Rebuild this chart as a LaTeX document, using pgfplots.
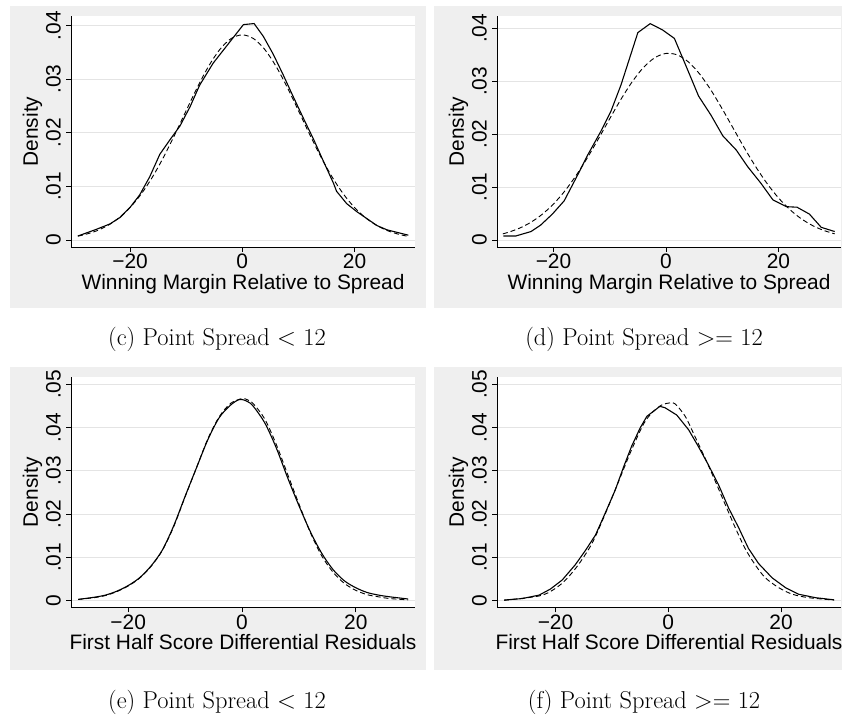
\documentclass[border=0pt]{standalone}
\usepackage{fontspec}
\usepackage{pgfplots}
\pgfplotsset{compat=1.18}
\newfontfamily\labfam{Liberation Sans}
\newcommand\labf{\labfam\fontsize{20.9}{25}\selectfont}
\newcommand\capf{\fontsize{24.4}{29}\selectfont}
\definecolor{bgc}{RGB}{239,239,239}
\definecolor{gridc}{RGB}{228,228,228}
\pgfplotsset{
  stata/.style={
    scale only axis, width=344pt,
    axis x line*=bottom, axis y line*=left,
    axis line style={black, line width=0.9pt},
    axis background/.style={fill=white},
    tick align=outside, major tick length=5pt,
    tick style={black, line width=0.9pt},
    xtick={-20,0,20}, xticklabels={−20,0,20},
    scaled y ticks=false, scaled x ticks=false,
    ymajorgrids, major grid style={gridc, line width=0.9pt},
    ticklabel style={font=\labf, inner sep=0pt},
    xticklabel shift=2pt, yticklabel shift=5pt,
    yticklabel style={rotate=90, anchor=south},
    xticklabel style={anchor=north},
    every axis x label/.style={at={(axis description cs:0.5,-0.184)}, anchor=base, font=\labf},
    every axis y label/.style={at={(axis description cs:-0.096,0.5)}, anchor=base, rotate=90, font=\labf},
    ylabel={Density},
    solidk/.style={black, line width=1.1pt},
    dashk/.style={black, line width=0.9pt, dash pattern=on 5pt off 3pt},
  }
}
\begin{document}
\begin{tikzpicture}
\useasboundingbox (0pt,0pt) rectangle (842pt,715pt);
\fill[bgc] (10pt,407pt) rectangle (426pt,709pt);
\fill[bgc] (434pt,407pt) rectangle (842pt,709pt);
\fill[bgc] (10pt,45pt) rectangle (426pt,348pt);
\fill[bgc] (434pt,45pt) rectangle (842pt,348pt);

% (c)
\begin{axis}[stata, at={(71pt,468pt)}, anchor=south west, height=231pt,
  xmin=-30.53, xmax=30.78, ymin=-0.0013, ymax=0.04181,
  ytick={0,0.01,0.02,0.03,0.04}, yticklabels={0,.01,.02,.03,.04},
  xlabel={Winning Margin Relative to Spread}]
\addplot[solidk] coordinates {(-29.3,0.00075) (-26,0.002) (-23.6,0.003) (-21.8,0.0042) (-20,0.0061) (-18.3,0.0084) (-16.5,0.0118) (-14.7,0.016) (-12.9,0.0187) (-11.1,0.0213) (-9.3,0.0249) (-7.6,0.0289) (-5.2,0.033) (-2.2,0.037) (0.2,0.0402) (2.1,0.0404) (3.75,0.038) (5.5,0.0347) (7.3,0.0308) (9.1,0.0267) (10.9,0.0227) (12.7,0.0188) (14.5,0.0146) (16.25,0.0106) (16.8,0.0091) (18.6,0.0068) (20.4,0.0053) (22.2,0.004) (24,0.0027) (25.8,0.0019) (29.6,0.0009)};
\addplot[dashk, smooth] coordinates {(-29.3,0.000735) (-28,0.00104) (-26,0.00170) (-24,0.00270) (-22,0.00412) (-20,0.00607) (-18,0.00861) (-16,0.01178) (-14,0.01553) (-12,0.01973) (-10,0.02416) (-8,0.02852) (-6,0.03244) (-4,0.03557) (-2,0.03759) (0,0.03829) (2,0.03759) (4,0.03557) (6,0.03244) (8,0.02852) (10,0.02416) (12,0.01973) (14,0.01553) (16,0.01178) (18,0.00861) (20,0.00607) (22,0.00412) (24,0.00270) (26,0.00170) (28,0.00104) (29.6,0.000678)};
\end{axis}

% (d)
\begin{axis}[stata, at={(497pt,468pt)}, anchor=south west, height=231pt,
  xmin=-30.04, xmax=31.12, ymin=-0.00132, ymax=0.04234,
  ytick={0,0.01,0.02,0.03,0.04}, yticklabels={0,.01,.02,.03,.04},
  xlabel={Winning Margin Relative to Spread}]
\addplot[solidk] coordinates {(-28.9,0.00076) (-26.7,0.00076) (-24,0.0016) (-22.3,0.0028) (-20.2,0.0049) (-18.1,0.0074) (-15.7,0.0123) (-13.9,0.0161) (-11.6,0.0205) (-9.8,0.0243) (-8.0,0.0293) (-5.0,0.0392) (-2.8,0.0409) (-0.6,0.0397) (1.5,0.0381) (3.6,0.0328) (5.8,0.0272) (8.0,0.0236) (10.1,0.0197) (12.5,0.0170) (14.5,0.0139) (16.9,0.0107) (19.0,0.0076) (21.4,0.0063) (23.3,0.0062) (25.5,0.0049) (27.6,0.0024) (30.0,0.0016)};
\addplot[dashk, smooth] coordinates {(-29,0.001169) (-28,0.001467) (-26,0.002257) (-24,0.003365) (-22,0.004862) (-20,0.006809) (-18,0.009242) (-16,0.012156) (-14,0.015496) (-12,0.019145) (-10,0.022923) (-8,0.026601) (-6,0.029919) (-4,0.032609) (-2,0.034447) (0,0.035265) (2,0.034990) (4,0.033647) (6,0.031357) (8,0.028322) (10,0.024792) (12,0.021032) (14,0.017292) (16,0.013779) (18,0.010641) (20,0.007963) (22,0.005776) (24,0.004061) (26,0.002767) (28,0.001827) (30,0.001169)};
\end{axis}

% (e)
\begin{axis}[stata, at={(71pt,107.7pt)}, anchor=south west, height=230pt,
  xmin=-30.05, xmax=30.41, ymin=-0.00152, ymax=0.05162,
  ytick={0,0.01,0.02,0.03,0.04,0.05}, yticklabels={0,.01,.02,.03,.04,.05},
  xlabel={First Half Score Differential Residuals}]
\addplot[solidk, smooth] coordinates {(-28.8,0.0003) (-26,0.0008) (-24,0.0013) (-22,0.0022) (-20,0.0035) (-18,0.0053) (-16,0.0080) (-14,0.0117) (-12,0.0173) (-10,0.0241) (-8,0.0307) (-6,0.0372) (-4,0.0423) (-2,0.0452) (-0.4,0.0465) (1,0.0460) (2,0.0449) (4,0.0411) (6,0.0354) (8,0.0285) (10,0.0220) (12,0.0160) (14,0.0110) (16,0.0072) (18,0.0046) (20,0.0030) (22,0.0019) (24,0.0013) (26,0.0009) (29.2,0.0004)};
\addplot[dashk, smooth] coordinates {(-28.8,0.0003) (-26,0.0007) (-24,0.0012) (-22,0.0021) (-20,0.0034) (-18,0.0052) (-16,0.0079) (-14,0.0116) (-12,0.0171) (-10,0.0240) (-8,0.0307) (-6,0.0374) (-4,0.0425) (-2,0.0456) (0,0.0467) (1,0.0464) (2,0.0455) (4,0.0420) (6,0.0362) (8,0.0293) (10,0.0224) (12,0.0158) (14,0.0104) (16,0.0066) (18,0.0040) (20,0.0024) (22,0.0014) (24,0.0009) (26,0.0005) (29.2,0.0002)};
\end{axis}

% (f)
\begin{axis}[stata, at={(497pt,107.7pt)}, anchor=south west, height=230pt,
  xmin=-30.37, xmax=30.62, ymin=-0.00152, ymax=0.05162,
  ytick={0,0.01,0.02,0.03,0.04,0.05}, yticklabels={0,.01,.02,.03,.04,.05},
  xlabel={First Half Score Differential Residuals}]
\addplot[solidk] coordinates {(-29.1,0.00015) (-25.9,0.0005) (-22.9,0.0013) (-20.9,0.0027) (-18.8,0.0048) (-16.5,0.0083) (-14.7,0.0116) (-12.9,0.0152) (-11.2,0.0202) (-9.4,0.0256) (-7.9,0.031) (-6.5,0.0357) (-5,0.0399) (-3.8,0.0426) (-1.5,0.0449) (-0.6,0.0446) (1.5,0.0429) (3.6,0.0395) (5.3,0.0357) (7.1,0.0314) (8.9,0.0268) (10.7,0.0214) (12.5,0.0168) (14.2,0.0121) (16.0,0.0086) (18.4,0.0053) (20.8,0.003) (23.1,0.0015) (26.1,0.0007) (29.4,0.0002)};
\addplot[dashk, smooth] coordinates {(-29.1,0.0001) (-22.9,0.0011) (-20.3,0.0026) (-18.2,0.0048) (-15.9,0.0084) (-13.5,0.0133) (-11.2,0.02) (-8.8,0.0276) (-6.5,0.0349) (-4.4,0.0408) (-2.9,0.0434) (-1.2,0.0452) (0.3,0.0457) (1.2,0.0455) (3.0,0.0426) (4.7,0.038) (6.5,0.033) (8.3,0.0277) (10.1,0.0222) (11.9,0.0168) (13.6,0.0121) (15.4,0.0083) (17.2,0.0053) (19.6,0.003) (22,0.0015) (24.9,0.0007) (29.4,0.00015)};
\end{axis}

\node[anchor=base, font=\capf] at (217pt,369pt) {(c) Point Spread $<$ 12};
\node[anchor=base, font=\capf] at (644pt,369pt) {(d) Point Spread >= 12};
\node[anchor=base, font=\capf] at (217pt,7pt) {(e) Point Spread $<$ 12};
\node[anchor=base, font=\capf] at (644pt,7pt) {(f) Point Spread >= 12};
\end{tikzpicture}
\end{document}
